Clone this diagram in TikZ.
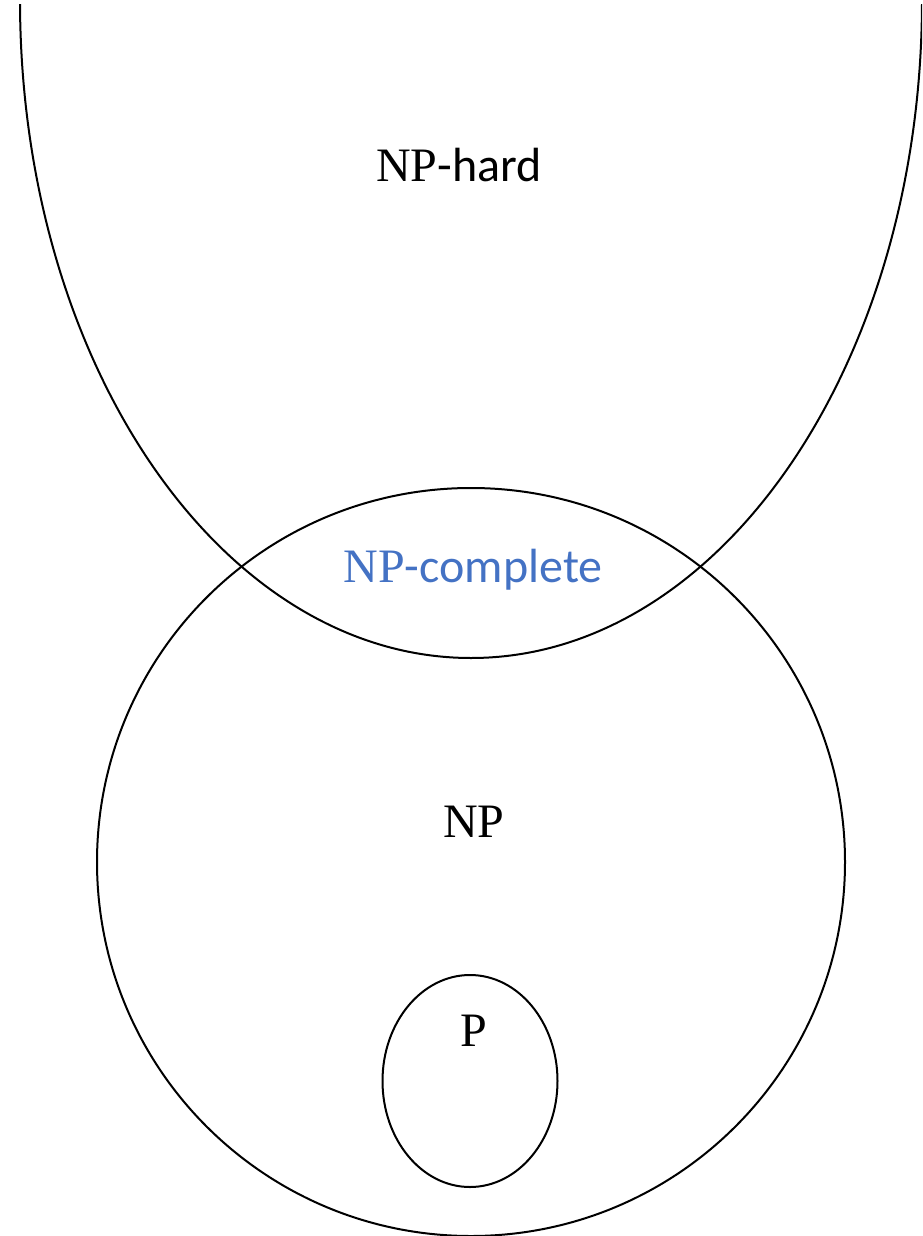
\documentclass[tikz,border=0pt]{standalone}
\usepackage{fontspec}
\setmainfont{Liberation Serif}
\newfontfamily\labelsans{Carlito}
\definecolor{npblue}{HTML}{4472C4}
\begin{document}
\begin{tikzpicture}[x=1pt,y=-1pt,
  setline/.style={draw=black,line width=2pt},
  setlabel/.style={inner sep=0pt,font=\fontsize{48}{54}\selectfont}]
\useasboundingbox (0,0) rectangle (922,1236);
% NP-hard region, running off the top of the page
\begin{scope}
  \clip (0,5) rectangle (922,1236);
  \draw[setline] (471,0) ellipse [x radius=451, y radius=658];
\end{scope}
% NP and P
\draw[setline] (471,862) circle [radius=374];
\draw[setline] (470,1081) ellipse [x radius=87.5, y radius=106];
% labels
\node[setlabel] (hard) at (459,165) {NP\labelsans -hard};
\node[setlabel,text=npblue] (complete) at (473,570) {NP\labelsans -complete};
\node[setlabel] (np) at (474,822) {NP};
\node[setlabel] (p) at (474,1031) {P};
\end{tikzpicture}
\end{document}
